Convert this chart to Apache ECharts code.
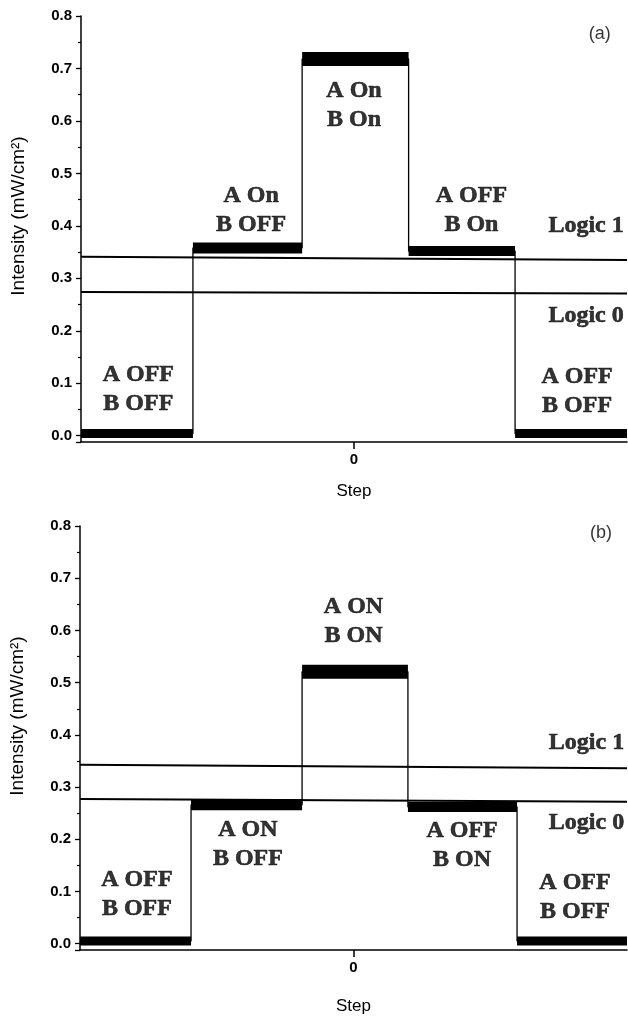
<!DOCTYPE html>
<html>
<head>
<meta charset="utf-8">
<script src="https://cdn.jsdelivr.net/npm/echarts@6/dist/echarts.min.js"></script>
<style>
  html, body { margin: 0; padding: 0; background: #fff; }
  #chart { width: 628px; height: 1017px; }
</style>
</head>
<body>
<div id="chart"></div>
<script>
// step boundaries (x, arbitrary step units) and plateau levels (mW/cm2)
const edgesA = [-100, -59, -19, 20, 59, 100];
const levelsA = [0.004, 0.358, 0.718, 0.352, 0.004];
const edgesB = [-100, -59.4, -18.8, 19.9, 59.8, 100];
const levelsB = [0.005, 0.266, 0.521, 0.262, 0.005];

// logic threshold lines, value at left and right end
const logicX = [-100, 100];
const logic1A = [0.341, 0.335];
const logic0A = [0.274, 0.271];
const logic1B = [0.343, 0.336];
const logic0B = [0.277, 0.272];

// text labels: [x, y, text]
const notesA = [
  [-79, 0.088, 'A OFF\nB OFF'],
  [-37.7, 0.429, 'A On\nB OFF'],
  [0, 0.63, 'A On\nB On'],
  [43, 0.43, 'A OFF\nB On'],
  [81.7, 0.084, 'A OFF\nB OFF'],
  [85, 0.4, 'Logic 1'],
  [85, 0.229, 'Logic 0']
];
const notesB = [
  [-79.2, 0.094, 'A OFF\nB OFF'],
  [-38.6, 0.191, 'A ON\nB OFF'],
  [0, 0.618, 'A ON\nB ON'],
  [39.7, 0.188, 'A OFF\nB ON'],
  [81, 0.088, 'A OFF\nB OFF'],
  [85.2, 0.385, 'Logic 1'],
  [85.2, 0.232, 'Logic 0']
];
const panelTags = [[90, 0.766, '(a)'], [90.5, 0.787, '(b)']];

// noise band thickness (px) of each plateau
const bandA = [9, 11, 14, 10, 9];
const bandB = [9, 11, 14, 10, 9];

const chart = echarts.init(document.getElementById('chart'));

function stepLine(edges, levels) {
  const pts = [];
  levels.forEach((lv, i) => {
    pts.push([edges[i], lv]);
    pts.push([edges[i + 1], lv]);
  });
  return pts;
}

function panelSeries(idx, edges, levels, bands, l1, l0, notes, tag) {
  const out = [];
  levels.forEach((lv, i) => {
    out.push({
      type: 'line', xAxisIndex: idx, yAxisIndex: idx,
      data: [[edges[i], lv], [edges[i + 1], lv]],
      showSymbol: false, silent: true,
      lineStyle: { color: '#000', width: bands[i] }
    });
  });
  out.push({
    type: 'line', xAxisIndex: idx, yAxisIndex: idx,
    data: stepLine(edges, levels),
    showSymbol: false, silent: true,
    lineStyle: { color: '#000', width: 1.3 }
  });
  [l1, l0].forEach(l => {
    out.push({
      type: 'line', xAxisIndex: idx, yAxisIndex: idx,
      data: [[logicX[0], l[0]], [logicX[1], l[1]]],
      showSymbol: false, silent: true,
      lineStyle: { color: '#000', width: 2 }
    });
  });
  out.push({
    type: 'scatter', xAxisIndex: idx, yAxisIndex: idx,
    symbolSize: 0, silent: true,
    data: notes.map(n => ({ value: [n[0], n[1]], name: n[2] })),
    label: {
      show: true, position: 'inside', formatter: p => p.name,
      fontFamily: 'Liberation Serif', fontWeight: 'bold',
      fontSize: 24, lineHeight: 29, color: '#000',
      textBorderColor: '#000', textBorderWidth: 0.6
    }
  });
  out.push({
    type: 'scatter', xAxisIndex: idx, yAxisIndex: idx,
    symbolSize: 0, silent: true,
    data: [{ value: [tag[0], tag[1]], name: tag[2] }],
    label: {
      show: true, position: 'inside', formatter: p => p.name,
      fontFamily: 'Liberation Sans', fontSize: 18, color: '#000'
    }
  });
  return out;
}

function yAxis(idx, shift) {
  return {
    type: 'value', gridIndex: idx,
    min: -0.012, max: 0.8, splitNumber: 8,
    minInterval: 0.1, maxInterval: 0.1,
    name: 'Intensity (mW/cm\u00B2)',
    nameLocation: 'middle', nameGap: 53, nameRotate: 90,
    nameTextStyle: {
      fontFamily: 'Liberation Sans', fontSize: 19, color: '#000',
      padding: [0, 0, 0, shift]
    },
    axisLine: { show: true, onZero: false, lineStyle: { color: '#000', width: 1.5 } },
    axisTick: { show: true, length: 5, lineStyle: { color: '#000', width: 1.3 } },
    minorTick: { show: true, splitNumber: 2, length: 3, lineStyle: { color: '#000', width: 1.2 } },
    splitLine: { show: false },
    axisLabel: {
      margin: 9, fontFamily: 'Liberation Sans', fontWeight: 'bold',
      fontSize: 15, color: '#000',
      formatter: v => (v < 0 ? '' : v.toFixed(1))
    }
  };
}

function xAxis(idx, gap) {
  return {
    type: 'value', gridIndex: idx, min: -100, max: 100,
    name: 'Step', nameLocation: 'middle', nameGap: gap,
    nameTextStyle: { fontFamily: 'Liberation Sans', fontSize: 17, color: '#000' },
    axisLine: { onZero: false, lineStyle: { color: '#000', width: 1.5 } },
    axisTick: { show: true, customValues: [0], length: 7, lineStyle: { color: '#000', width: 1.5 } },
    splitLine: { show: false },
    axisLabel: {
      customValues: [0], margin: 10, fontFamily: 'Liberation Sans',
      fontWeight: 'bold', fontSize: 15, color: '#000'
    }
  };
}

chart.setOption({
  backgroundColor: '#fff',
  animation: false,
  grid: [
    { left: 81, top: 16, width: 546, height: 426 },
    { left: 80, top: 526, width: 547, height: 424 }
  ],
  xAxis: [xAxis(0, 41), xAxis(1, 48)],
  yAxis: [yAxis(0, 26), yAxis(1, 44)],
  series: [].concat(
    panelSeries(0, edgesA, levelsA, bandA, logic1A, logic0A, notesA, panelTags[0]),
    panelSeries(1, edgesB, levelsB, bandB, logic1B, logic0B, notesB, panelTags[1])
  )
});
</script>
</body>
</html>
